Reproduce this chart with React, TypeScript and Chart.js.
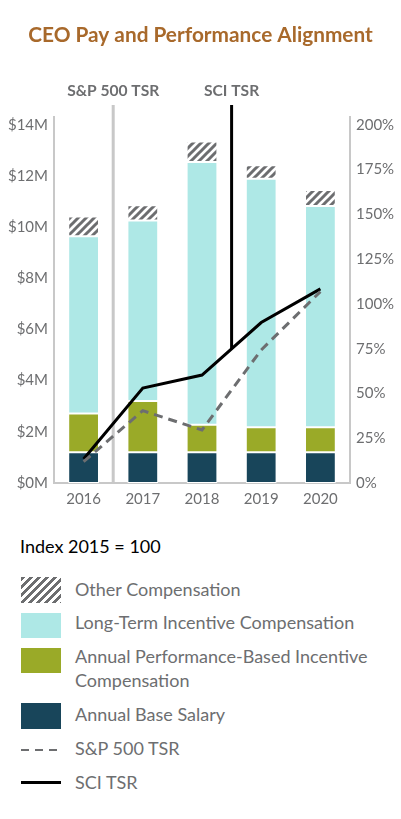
import React, { useEffect, useRef } from "react";
import { Chart, registerables } from "chart.js";

Chart.register(...registerables);

// ---- Data ----
const years = ["2016", "2017", "2018", "2019", "2020"];
const baseSalary = [1.2, 1.2, 1.2, 1.2, 1.2];
const annualIncentive = [1.52, 2.0, 1.08, 0.98, 0.98];
const longTermIncentive = [6.92, 7.06, 10.26, 9.71, 8.64];
const otherComp = [0.77, 0.59, 0.8, 0.52, 0.63];
const sciTsr = [13.4, 53, 60.3, 89.6, 108.4];
const spTsr = [11.9, 40.4, 29.6, 74.3, 106.9];
const payTicks = [0, 2, 4, 6, 8, 10, 12, 14];
const tsrTicks = [0, 25, 50, 75, 100, 125, 150, 175, 200];
const markerLabels = ["S&P 500 TSR", "SCI TSR"];
const markerPositions = [0.5, 2.5]; // between categories

const TITLE = "CEO Pay and Performance Alignment";
const GRAY = "#6d6e70";
const AXIS = "#c8c8c8";
const NAVY = "#18455a";
const OLIVE = "#9aaa28";
const CYAN = "#aee8e6";
const FONT = "Lato, 'Open Sans', sans-serif";

function makeHatch(): CanvasPattern | string {
  const c = document.createElement("canvas");
  c.width = 8;
  c.height = 8;
  const g = c.getContext("2d");
  if (!g) return GRAY;
  g.fillStyle = "#ffffff";
  g.fillRect(0, 0, 8, 8);
  g.strokeStyle = GRAY;
  g.lineWidth = 3;
  g.lineCap = "square";
  g.beginPath();
  g.moveTo(-2, 10); g.lineTo(10, -2);
  g.moveTo(-6, 6); g.lineTo(6, -6);
  g.moveTo(2, 14); g.lineTo(14, 2);
  g.stroke();
  const p = g.createPattern(c, "repeat");
  return p || GRAY;
}

const overlayPlugin = {
  id: "overlay",
  beforeDatasetsDraw(chart: any) {
    const { ctx, chartArea, scales } = chart;
    const x = scales.x.getPixelForValue(markerPositions[0]);
    ctx.save();
    ctx.strokeStyle = AXIS;
    ctx.lineWidth = 3;
    ctx.beginPath();
    ctx.moveTo(x, 105);
    ctx.lineTo(x, chartArea.bottom);
    ctx.stroke();
    ctx.restore();
  },
  afterDatasetsDraw(chart: any) {
    const { ctx, scales } = chart;
    const pos = markerPositions[1];
    const i0 = Math.floor(pos);
    const v = sciTsr[i0] + (sciTsr[i0 + 1] - sciTsr[i0]) * (pos - i0);
    const x = scales.x.getPixelForValue(pos);
    const y = scales.y2.getPixelForValue(v);
    ctx.save();
    ctx.strokeStyle = "#000";
    ctx.lineWidth = 3;
    ctx.beginPath();
    ctx.moveTo(x, 105);
    ctx.lineTo(x, y);
    ctx.stroke();
    ctx.restore();
  },
  afterDraw(chart: any) {
    const { ctx, scales } = chart;
    ctx.save();
    ctx.textAlign = "center";
    ctx.textBaseline = "alphabetic";
    ctx.fillStyle = "#a8692b";
    ctx.font = `bold 20.8px ${FONT}`;
    ctx.fillText(TITLE, chart.width / 2, 42);
    ctx.fillStyle = GRAY;
    ctx.font = `bold 15.6px ${FONT}`;
    markerLabels.forEach((lbl, i) => {
      const x = scales.x.getPixelForValue(markerPositions[i]);
      ctx.fillText(lbl, x, 96);
    });
    ctx.restore();
  },
};

function ChartCanvas() {
  const ref = useRef<HTMLCanvasElement | null>(null);
  useEffect(() => {
    if (!ref.current) return;
    const hatch = makeHatch();
    const barCommon = {
      type: "bar" as const,
      yAxisID: "y",
      stack: "pay",
      order: 2,
      borderColor: "#ffffff",
      borderWidth: 1,
      borderSkipped: false,
      barPercentage: 0.52,
      categoryPercentage: 1,
    };
    const tickFont = { family: FONT, size: 15 };
    const chart = new Chart(ref.current, {
      type: "bar",
      data: {
        labels: years,
        datasets: [
          { ...barCommon, label: "Annual Base Salary", data: baseSalary, backgroundColor: NAVY },
          { ...barCommon, label: "Annual Performance-Based Incentive Compensation", data: annualIncentive, backgroundColor: OLIVE },
          { ...barCommon, label: "Long-Term Incentive Compensation", data: longTermIncentive, backgroundColor: CYAN },
          { ...barCommon, label: "Other Compensation", data: otherComp, backgroundColor: hatch as any },
          {
            type: "line",
            label: "S&P 500 TSR",
            data: spTsr,
            yAxisID: "y2",
            order: 0,
            borderColor: GRAY,
            borderWidth: 3,
            borderDash: [9, 6],
            pointRadius: 0,
            fill: false,
            tension: 0,
          } as any,
          {
            type: "line",
            label: "SCI TSR",
            data: sciTsr,
            yAxisID: "y2",
            order: 0,
            borderColor: "#000000",
            borderWidth: 3,
            pointRadius: 0,
            fill: false,
            tension: 0,
          } as any,
        ],
      },
      options: {
        responsive: false,
        animation: false,
        layout: { padding: { top: 117, left: 0, right: 0, bottom: 0 } },
        plugins: { legend: { display: false }, tooltip: { enabled: false }, title: { display: false } },
        scales: {
          x: {
            stacked: true,
            grid: { display: false, drawTicks: false },
            border: { display: true, color: AXIS, width: 2 },
            ticks: { color: GRAY, font: tickFont, padding: 7 },
            afterFit: (s: any) => { s.height = 32; },
          },
          y: {
            stacked: true,
            position: "left",
            min: 0,
            max: 14.3,
            grid: { display: false, drawTicks: false },
            border: { display: true, color: AXIS, width: 2 },
            ticks: {
              color: GRAY,
              font: tickFont,
              padding: 6,
              callback: (v: any) => `$${v}M`,
            },
            afterBuildTicks: (s: any) => { s.ticks = payTicks.map((v) => ({ value: v })); },
            afterFit: (s: any) => { s.width = 54; },
          },
          y2: {
            position: "right",
            min: 0,
            max: 204.4,
            grid: { display: false, drawTicks: false },
            border: { display: true, color: AXIS, width: 2 },
            ticks: {
              color: GRAY,
              font: tickFont,
              padding: 6,
              callback: (v: any) => `${v}%`,
            },
            afterBuildTicks: (s: any) => { s.ticks = tsrTicks.map((v) => ({ value: v })); },
            afterFit: (s: any) => { s.width = 51; },
          },
        },
      },
      plugins: [overlayPlugin],
    } as any);
    return () => chart.destroy();
  }, []);
  return <canvas ref={ref} width={401} height={515} style={{ position: "absolute", left: 0, top: 0 }} />;
}

const textStyle: React.CSSProperties = {
  position: "absolute",
  left: 75,
  fontFamily: FONT,
  fontSize: 18,
  lineHeight: 1.2,
  color: GRAY,
  whiteSpace: "nowrap",
};

function Swatch({ top, height, background }: { top: number; height: number; background: string }) {
  return <div style={{ position: "absolute", left: 21, top, width: 40, height, background }} />;
}

export default function App() {
  return (
    <div style={{ position: "absolute", left: 0, top: 0, width: 401, height: 819, background: "#fff", overflow: "hidden" }}>
      <ChartCanvas />
      <div style={{ ...textStyle, left: 20, color: "#000", top: 535.5 }}>Index 2015 = 100</div>

      <Swatch top={577} height={26} background={`repeating-linear-gradient(135deg, ${GRAY} 0px, ${GRAY} 2.9px, #fff 2.9px, #fff 5.66px)`} />
      <div style={{ ...textStyle, top: 578.9 }}>Other Compensation</div>

      <Swatch top={613} height={25} background={CYAN} />
      <div style={{ ...textStyle, top: 612.2 }}>Long-Term Incentive Compensation</div>

      <Swatch top={648} height={25} background={OLIVE} />
      <div style={{ ...textStyle, top: 646.2 }}>Annual Performance-Based Incentive</div>
      <div style={{ ...textStyle, top: 669.5 }}>Compensation</div>

      <Swatch top={703} height={26} background={NAVY} />
      <div style={{ ...textStyle, top: 703.9 }}>Annual Base Salary</div>

      <Swatch top={749} height={2} background={`repeating-linear-gradient(to right, ${GRAY} 0px, ${GRAY} 8px, transparent 8px, transparent 14px)`} />
      <div style={{ ...textStyle, top: 737.9 }}>S&amp;P 500 TSR</div>

      <Swatch top={781} height={3} background="#000" />
      <div style={{ ...textStyle, top: 771.5 }}>SCI TSR</div>
    </div>
  );
}
